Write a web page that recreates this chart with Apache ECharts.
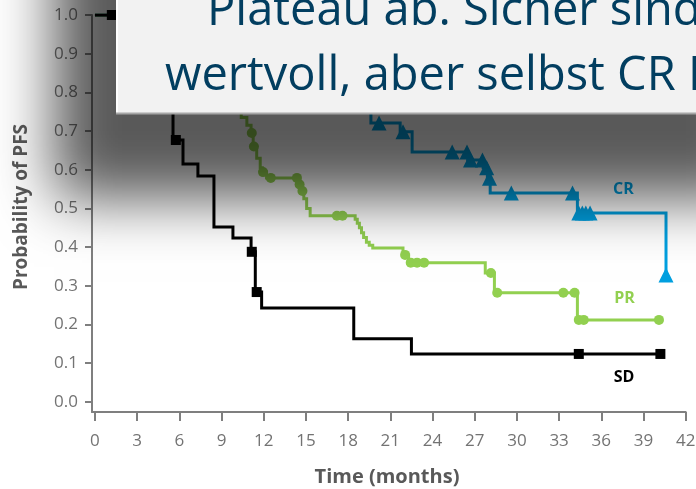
<!DOCTYPE html>
<html>
<head>
<meta charset="utf-8">
<script src="https://cdn.jsdelivr.net/npm/echarts@6.0.0/dist/echarts.min.js"></script>
<style>
  html, body { margin: 0; padding: 0; background: #ffffff; }
  #chart { width: 696px; height: 489px; }
</style>
</head>
<body>
<div id="chart"></div>
<script>
// Kaplan–Meier progression-free survival by response group.
// Step points are [months, probability]; censored marks sit on the curve.
const crSteps = [[0,1],[2.5,0.975],[5,0.95],[7.5,0.925],[10,0.9],[12.5,0.87],[14.8,0.84],[16.6,0.81],[18,0.785],[19.1,0.765],[19.62,0.721],[21.7,0.698],[22.55,0.646],[26.5,0.625],[27.6,0.605],[27.9,0.578],[28.1,0.54],[34.3,0.488],[40.6,0.328]];
const crCensored = [[20.2,0.721],[21.9,0.698],[25.4,0.646],[26.45,0.646],[26.7,0.625],[27.55,0.625],[27.85,0.605],[28.05,0.578],[29.6,0.54],[33.95,0.54],[34.4,0.488],[34.65,0.488],[34.9,0.488],[35.2,0.488],[40.6,0.328]];

const prSteps = [[0,1],[1.8,0.975],[3.2,0.95],[4.6,0.925],[5.8,0.9],[6.9,0.875],[7.8,0.85],[8.6,0.82],[9.3,0.79],[9.9,0.76],[10.4,0.735],[10.8,0.715],[11.1,0.695],[11.25,0.66],[11.5,0.63],[11.75,0.605],[11.9,0.594],[12.2,0.579],[14.45,0.562],[14.65,0.545],[14.85,0.525],[15.05,0.5],[15.3,0.481],[18.5,0.472],[18.65,0.462],[18.8,0.45],[18.95,0.437],[19.1,0.425],[19.3,0.413],[19.5,0.405],[19.75,0.398],[21.9,0.38],[22.3,0.36],[27.75,0.333],[28.4,0.282],[34.3,0.212],[40.1,0.212]];
const prCensored = [[11.15,0.695],[11.3,0.66],[11.95,0.594],[12.5,0.579],[14.36,0.579],[14.55,0.562],[14.75,0.545],[17.2,0.481],[17.6,0.481],[22.05,0.38],[22.45,0.36],[22.9,0.36],[23.4,0.36],[28.15,0.333],[28.6,0.282],[33.3,0.282],[34.1,0.282],[34.4,0.212],[34.75,0.212],[40.1,0.212]];

const sdSteps = [[0,1],[2.6,0.94],[3.8,0.87],[4.8,0.8],[5.55,0.677],[6.26,0.615],[7.32,0.584],[8.46,0.452],[9.81,0.424],[11.1,0.388],[11.4,0.284],[11.85,0.243],[18.4,0.163],[22.5,0.124],[40.2,0.124]];
const sdCensored = [[1.2,1],[5.75,0.677],[11.15,0.388],[11.5,0.284],[34.4,0.124],[40.2,0.124]];

const xTicks = [0,3,6,9,12,15,18,21,24,27,30,33,36,39,42];
const yTicks = [0,0.1,0.2,0.3,0.4,0.5,0.6,0.7,0.8,0.9,1.0];

const groupNames = ['CR', 'PR', 'SD'];
const xTitle = 'Time (months)';
const yTitle = 'Probability of PFS';
const headlineLines = ['Plateau ab. Sicher sind', 'wertvoll, aber selbst CR P'];

const CR_COLOR = '#00a0e0';
const PR_COLOR = '#92d050';
const SD_COLOR = '#000000';
const AXIS_COLOR = '#7f7f7f';
const FONT = '"Open Sans", "Noto Sans", sans-serif';

const chart = echarts.init(document.getElementById('chart'), null, { renderer: 'canvas' });

function curve(name, data, color) {
  return {
    type: 'line', name, data, step: 'end',
    symbol: 'none', showSymbol: false,
    lineStyle: { color, width: 3, join: 'miter', cap: 'butt' },
    z: 3, silent: true
  };
}
function marks(name, data, color, symbol, size) {
  return {
    type: 'scatter', name, data, symbol, symbolSize: size,
    itemStyle: { color, opacity: 1 }, z: 4, silent: true
  };
}

const option = {
  animation: false,
  backgroundColor: '#ffffff',
  grid: { left: 92, right: 10.3, top: 15, bottom: 77, containLabel: false, outerBoundsMode: 'none' },
  xAxis: {
    type: 'value', min: -0.21, max: 42,
    axisLine: { show: true, onZero: false, lineStyle: { color: AXIS_COLOR, width: 2 } },
    axisTick: { show: true, length: 9, customValues: xTicks, lineStyle: { color: AXIS_COLOR, width: 2 } },
    axisLabel: { customValues: xTicks, margin: 21, fontSize: 17, fontFamily: FONT, color: '#737373' },
    splitLine: { show: false }
  },
  yAxis: {
    type: 'value', min: -0.026, max: 1,
    axisLine: { show: true, onZero: false, lineStyle: { color: AXIS_COLOR, width: 2 } },
    axisTick: { show: true, length: 7, customValues: yTicks, lineStyle: { color: AXIS_COLOR, width: 2 } },
    axisLabel: { customValues: yTicks, margin: 14, fontSize: 17, fontFamily: FONT, color: '#737373',
      formatter: v => v.toFixed(1) },
    splitLine: { show: false }
  },
  series: [
    curve('CR', crSteps, CR_COLOR),
    curve('PR', prSteps, PR_COLOR),
    curve('SD', sdSteps, SD_COLOR),
    marks('CR', crCensored, CR_COLOR, 'triangle', 15),
    marks('PR', prCensored, PR_COLOR, 'circle', 10),
    marks('SD', sdCensored, SD_COLOR, 'rect', 10)
  ],
  graphic: [
    // group labels beside the curves
    { type: 'text', x: 623.5, y: 189.5, z: 5, silent: true,
      style: { text: groupNames[0], font: 'bold 16px ' + FONT, fill: CR_COLOR, align: 'center', verticalAlign: 'middle' } },
    { type: 'text', x: 624.5, y: 298, z: 5, silent: true,
      style: { text: groupNames[1], font: 'bold 16px ' + FONT, fill: PR_COLOR, align: 'center', verticalAlign: 'middle' } },
    { type: 'text', x: 624, y: 377, z: 5, silent: true,
      style: { text: groupNames[2], font: 'bold 16px ' + FONT, fill: SD_COLOR, align: 'center', verticalAlign: 'middle' } },
    // axis titles
    { type: 'text', x: 387, y: 477, z: 5, silent: true,
      style: { text: xTitle, font: 'bold 20px ' + FONT, fill: '#595959', align: 'center', verticalAlign: 'middle' } },
    { type: 'text', x: 22, y: 207, rotation: Math.PI / 2, z: 5, silent: true,
      style: { text: yTitle, font: 'bold 19px ' + FONT, fill: '#595959', align: 'center', verticalAlign: 'middle' } },
    // callout panel laid over the chart, with a soft drop shadow
    { type: 'rect', z: 50, silent: true,
      shape: { x: 116, y: -300, width: 700, height: 413 },
      style: { fill: '#f2f2f2', shadowBlur: 56, shadowColor: 'rgba(0,0,0,0.65)', shadowOffsetX: -62, shadowOffsetY: 86 } },
    { type: 'line', z: 51, silent: true,
      shape: { x1: 117, y1: 0, x2: 117, y2: 113 }, style: { stroke: '#ffffff', lineWidth: 2 } },
    { type: 'line', z: 51, silent: true,
      shape: { x1: 116, y1: 113.5, x2: 700, y2: 113.5 }, style: { stroke: '#a6a6a6', lineWidth: 2 } },
    { type: 'text', x: 207, y: 12, z: 52, silent: true,
      style: { text: headlineLines[0], font: '47px ' + FONT, fill: '#023e60', align: 'left', verticalAlign: 'middle' } },
    { type: 'text', x: 165, y: 76.5, z: 52, silent: true,
      style: { text: headlineLines[1], font: '47px ' + FONT, fill: '#023e60', align: 'left', verticalAlign: 'middle' } }
  ]
};

chart.setOption(option);
</script>
</body>
</html>
